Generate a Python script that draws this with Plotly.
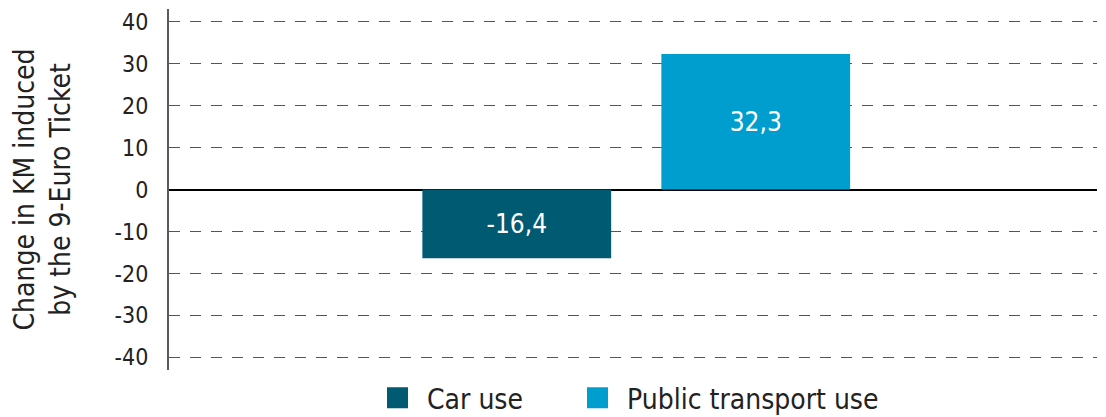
import plotly.graph_objects as go

group = ["9-Euro Ticket"]
series_names = ["Car use", "Public transport use"]
series_values = [-16.4, 32.3]
series_colors = ["#005A72", "#009ECF"]
y_ticks = [-40, -30, -20, -10, 0, 10, 20, 30, 40]
y_tick_labels = ["-40", "-30", "-20", "-10", "0", "10", "20", "30", "40"]

FONT = "DejaVu Sans Condensed, Liberation Sans Narrow, DejaVu Sans, sans-serif"

# the page body has an 8px margin, so the figure is sized to fit the window
W, H = 1098, 409
legend_ids = ["legend", "legend2"]
legend_left_px = [360, 560]

fig = go.Figure()
for name, val, col, lid in zip(series_names, series_values, series_colors, legend_ids):
    fig.add_trace(go.Bar(
        x=group, y=[val], name=name, marker=dict(color=col, line=dict(width=0)),
        texttemplate="%{y:.1f}", textposition="inside", insidetextanchor="middle",
        textfont=dict(color="white", size=26, family=FONT),
        showlegend=False,
    ))
    fig.add_trace(go.Scatter(
        x=[None], y=[None], mode="markers", name=name, legend=lid,
        marker=dict(symbol="square", size=16, color=col, line=dict(color=col, width=6)),
        showlegend=True,
    ))

legend_style = dict(orientation="h", xanchor="left", xref="container",
                    yref="container", y=19 / H, yanchor="middle",
                    font=dict(size=28, family=FONT, color="#222222"),
                    itemwidth=49, bgcolor="rgba(0,0,0,0)")

fig.update_layout(
    width=W, height=H,
    margin=dict(l=161, r=9, t=1, b=47),
    paper_bgcolor="white", plot_bgcolor="white",
    separators=",.",
    barmode="group", bargap=0.485, bargroupgap=0.21,
    font=dict(family=FONT, color="#222222"),
    legend=dict(x=legend_left_px[0] / W, **legend_style),
    legend2=dict(x=legend_left_px[1] / W, **legend_style),
    xaxis=dict(showticklabels=False, showgrid=False, zeroline=False, showline=False,
               ticks="", automargin=False, range=[-0.5035, 0.4965]),
    yaxis=dict(
        range=[-43, 43], tickvals=y_ticks, ticktext=y_tick_labels, ticks="",
        tickfont=dict(size=23, family=FONT, color="#222222"),
        ticklabelstandoff=14, automargin=False,
        showgrid=True, gridcolor="#555555", gridwidth=1, griddash="11px,10px",
        zeroline=True, zerolinecolor="#000000", zerolinewidth=1.5,
        showline=True, linecolor="#5a5a5a", linewidth=2,
        title=dict(text="Change in KM induced<br>by the 9-Euro Ticket",
                   font=dict(size=28, family=FONT, color="#222222"), standoff=41),
    ),
)

fig.write_html("out.html")
